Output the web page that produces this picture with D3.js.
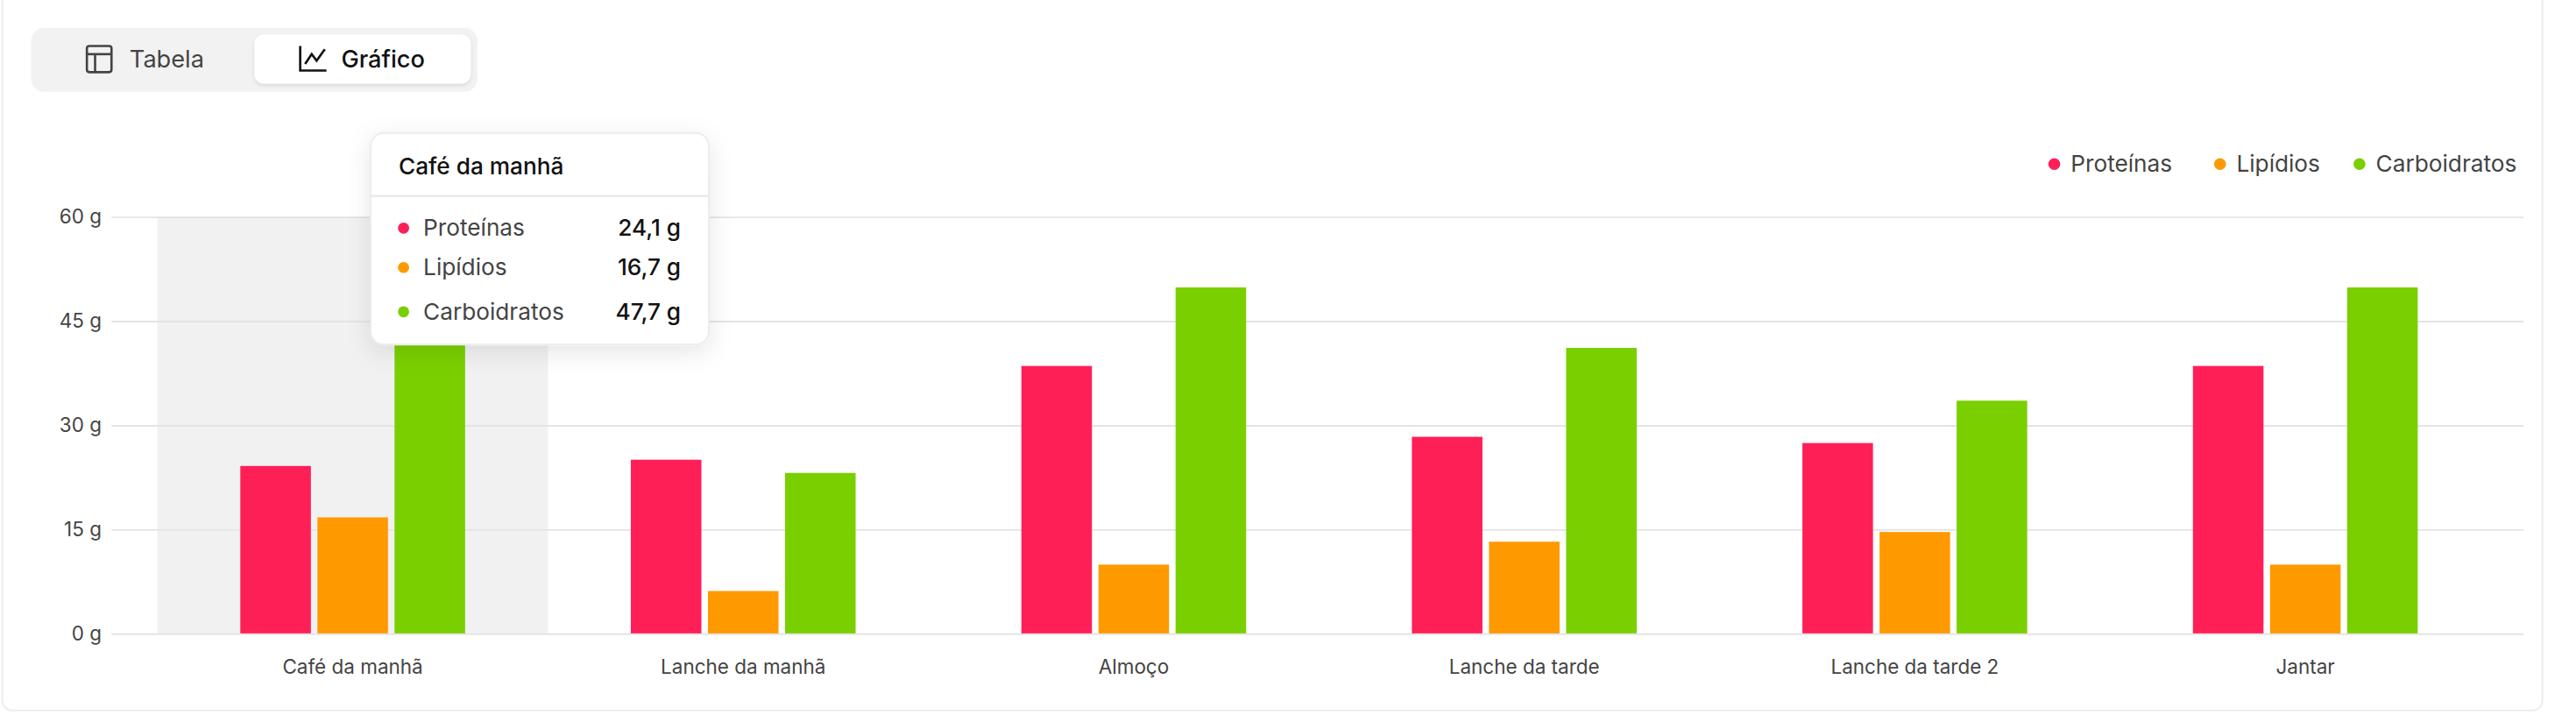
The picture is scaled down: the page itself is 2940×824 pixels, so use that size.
<!DOCTYPE html>
<html>
<head>
<meta charset="utf-8">
<script src="https://cdn.jsdelivr.net/npm/d3@7"></script>
<style>
  body { margin: 0; background: #fff; font-family: Inter, "Noto Sans", sans-serif; }
  svg { display: block; }
</style>
</head>
<body>
<div id="chart"></div>
<script>
// data
var meals = ["Café da manhã", "Lanche da manhã", "Almoço", "Lanche da tarde", "Lanche da tarde 2", "Jantar"];
var seriesNames = ["Proteínas", "Lipídios", "Carboidratos"];
var seriesColors = ["#ff1f57", "#ff9900", "#7acf00"];
var proteinas = [24.1, 25.0, 38.5, 28.3, 27.4, 38.5];
var lipidios = [16.7, 6.1, 9.9, 13.2, 14.6, 9.9];
var carboidratos = [47.7, 23.1, 49.8, 41.1, 33.5, 49.8];
var yTicks = [0, 15, 30, 45, 60];
var hovered = 0;

var values = [proteinas, lipidios, carboidratos];

// layout in a 1568 wide space, scaled up by the viewBox
var W = 1568, H = 440;
var svg = d3.select("#chart").append("svg")
    .attr("width", 2940).attr("height", 824)
    .attr("viewBox", `0 0 ${W} ${H}`);

var defs = svg.append("defs");
var sh = defs.append("filter").attr("id", "shadow").attr("x", "-30%").attr("y", "-30%").attr("width", "160%").attr("height", "170%");
sh.append("feDropShadow").attr("dx", 0).attr("dy", 4).attr("stdDeviation", 7).attr("flood-color", "#000").attr("flood-opacity", 0.1);
var sh2 = defs.append("filter").attr("id", "btnShadow").attr("x", "-20%").attr("y", "-30%").attr("width", "140%").attr("height", "170%");
sh2.append("feDropShadow").attr("dx", 0).attr("dy", 1).attr("stdDeviation", 1.2).attr("flood-color", "#000").attr("flood-opacity", 0.12);

// card border
svg.append("rect").attr("x", 0.5).attr("y", -5).attr("width", W - 20).attr("height", H - 2)
    .attr("rx", 6).attr("fill", "none").attr("stroke", "#ececec");

// toggle
svg.append("rect").attr("x", 18).attr("y", 17).attr("width", 272).attr("height", 39).attr("rx", 8).attr("fill", "#f2f2f2");
svg.append("rect").attr("x", 154).attr("y", 21).attr("width", 132).attr("height", 30).attr("rx", 6)
    .attr("fill", "#fff").attr("filter", "url(#btnShadow)");
// table icon
var ti = svg.append("g").attr("fill", "none").attr("stroke", "#444").attr("stroke-width", 1.4);
ti.append("rect").attr("x", 52).attr("y", 28).attr("width", 15).attr("height", 16).attr("rx", 1.5);
ti.append("line").attr("x1", 52).attr("x2", 67).attr("y1", 33).attr("y2", 33);
ti.append("line").attr("x1", 57).attr("x2", 57).attr("y1", 33).attr("y2", 44);
svg.append("text").attr("x", 78).attr("y", 41).attr("font-size", 14.5).attr("fill", "#444").text("Tabela");
// chart icon
var ci = svg.append("g").attr("fill", "none").attr("stroke", "#111").attr("stroke-width", 1.4);
ci.append("path").attr("d", "M182,28 V43 H198");
ci.append("path").attr("d", "M185,39 L189,33 L192,37 L197,30");
svg.append("text").attr("x", 207).attr("y", 41).attr("font-size", 14.5).attr("font-weight", 500).attr("fill", "#111").text("Gráfico");

// scales
var y = d3.scaleLinear().domain([0, 60]).range([386, 132]);
var x0 = d3.scaleBand().domain(meals).range([95, 1523]);
var x1 = d3.scaleBand().domain(seriesNames).range([x0.bandwidth() / 2 - 68.5, x0.bandwidth() / 2 + 68.5]).paddingInner(0.085);

// hover band
svg.append("rect").attr("x", x0(meals[hovered])).attr("y", y(60)).attr("width", x0.bandwidth())
    .attr("height", y(0) - y(60)).attr("fill", "#f1f1f1");

// y axis grid
var yAxis = svg.append("g").attr("transform", "translate(67,0)")
    .call(d3.axisLeft(y).tickValues(yTicks).tickSize(-1470).tickFormat(d => d + " g"));
yAxis.select(".domain").remove();
yAxis.selectAll(".tick line").attr("stroke", "#e4e4e4");
yAxis.selectAll(".tick text").attr("x", -6).attr("font-size", 12).attr("fill", "#444").attr("font-family", "Inter");

// x axis
var xAxis = svg.append("g").attr("transform", "translate(0,386)")
    .call(d3.axisBottom(x0).tickSize(0).tickPadding(16));
xAxis.select(".domain").remove();
xAxis.selectAll(".tick text").attr("font-size", 12).attr("fill", "#444").attr("font-family", "Inter");

// bars
var groups = svg.append("g").selectAll("g").data(meals).join("g")
    .attr("transform", d => `translate(${x0(d)},0)`);
groups.selectAll("rect")
    .data((d, i) => seriesNames.map((s, k) => ({ s: s, k: k, v: values[k][i] })))
    .join("rect")
    .attr("x", d => x1(d.s))
    .attr("width", x1.bandwidth())
    .attr("y", d => y(d.v))
    .attr("height", d => y(0) - y(d.v))
    .attr("fill", d => seriesColors[d.k]);

// legend
var legendX = [1251, 1352, 1437];
var legend = svg.append("g").selectAll("g").data(seriesNames).join("g")
    .attr("transform", (d, i) => `translate(${legendX[i]},100)`);
legend.append("circle").attr("r", 3.6).attr("fill", (d, i) => seriesColors[i]);
legend.append("text").attr("x", 10).attr("dy", "0.35em").attr("font-size", 14).attr("fill", "#444").text(d => d);

// tooltip
var tip = svg.append("g").attr("transform", "translate(225,81)");
tip.append("rect").attr("width", 206).attr("height", 129).attr("rx", 8).attr("fill", "#fff")
    .attr("stroke", "#ececec").attr("filter", "url(#shadow)");
tip.append("text").attr("x", 17).attr("y", 25).attr("font-size", 14).attr("font-weight", 500).attr("fill", "#111").text(meals[hovered]);
tip.append("line").attr("x1", 0).attr("x2", 206).attr("y1", 38.5).attr("y2", 38.5).attr("stroke", "#e6e6e6");
var rowY = [58, 82, 109];
var rows = tip.selectAll("g.row").data(seriesNames).join("g").attr("class", "row")
    .attr("transform", (d, i) => `translate(0,${rowY[i]})`);
rows.append("circle").attr("cx", 20).attr("r", 3.4).attr("fill", (d, i) => seriesColors[i]);
rows.append("text").attr("x", 32).attr("dy", "0.35em").attr("font-size", 14).attr("fill", "#444").text(d => d);
rows.append("text").attr("x", 189).attr("dy", "0.35em").attr("text-anchor", "end").attr("font-size", 14)
    .attr("font-weight", 500).attr("fill", "#111")
    .text((d, i) => String(values[i][hovered]).replace(".", ",") + " g");
</script>
</body>
</html>
